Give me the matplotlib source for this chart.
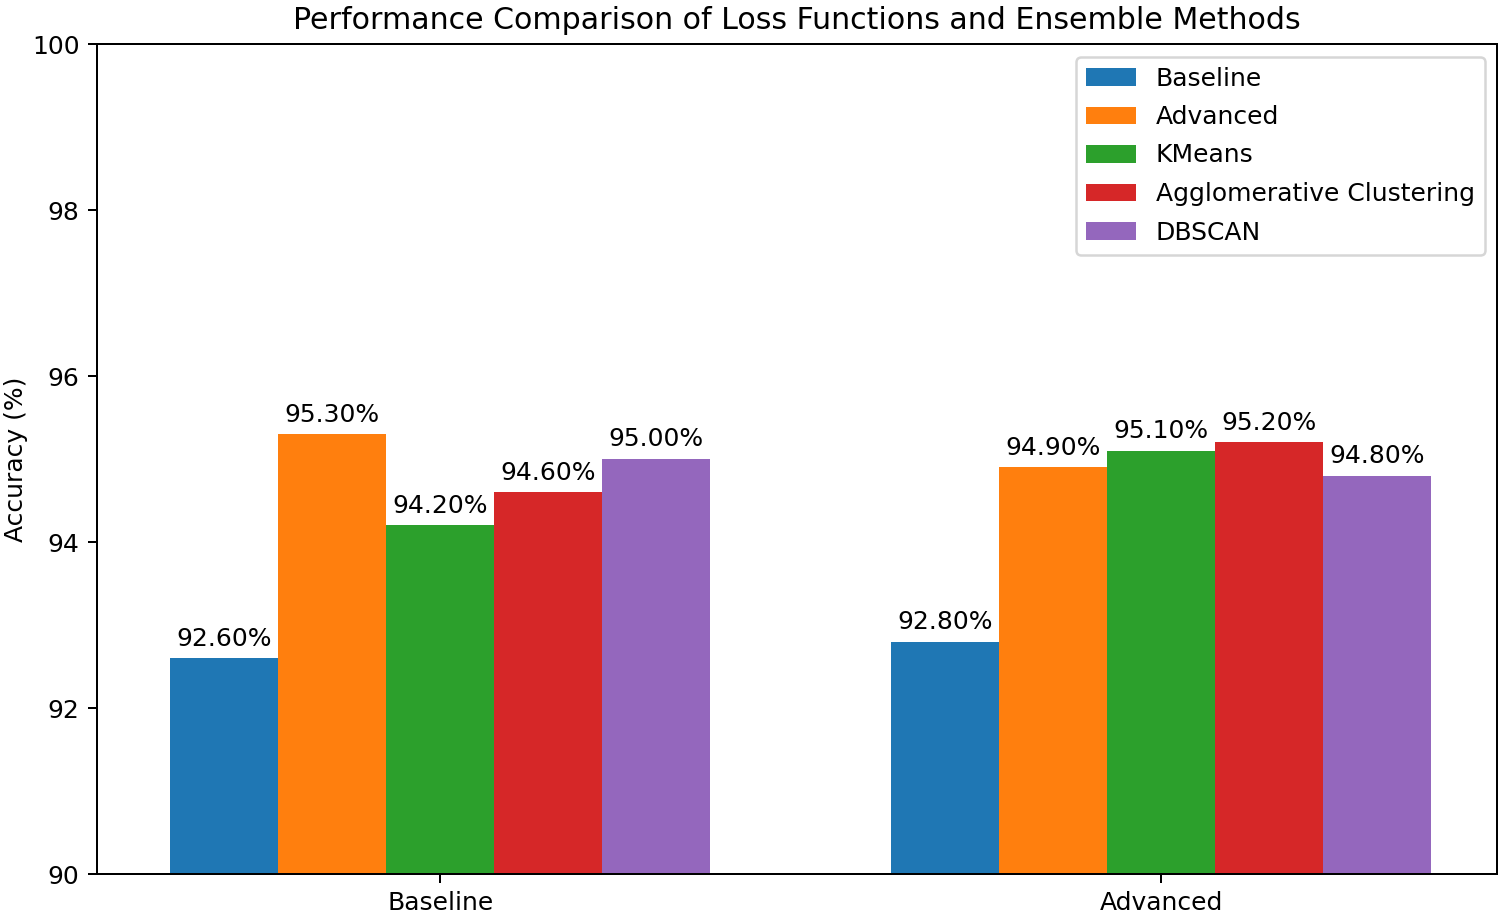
import matplotlib
matplotlib.use("Agg")
import matplotlib.pyplot as plt
import numpy as np

groups = ["Baseline", "Advanced"]
methods = ["Baseline", "Advanced", "KMeans", "Agglomerative Clustering", "DBSCAN"]
values = {
    "Baseline": [92.6, 92.8],
    "Advanced": [95.3, 94.9],
    "KMeans": [94.2, 95.1],
    "Agglomerative Clustering": [94.6, 95.2],
    "DBSCAN": [95.0, 94.8],
}
colors = ["#1f77b4", "#ff7f0e", "#2ca02c", "#d62728", "#9467bd"]

fig = plt.figure(figsize=(1505/180, 916/180), dpi=180)
ax = fig.add_axes([97/1505, 42/916, 1400/1505, 830/916])

x = np.arange(len(groups))
w = 0.15
for i, m in enumerate(methods):
    pos = x + (i - 2) * w
    bars = ax.bar(pos, values[m], w, label=m, color=colors[i])
    for b, v in zip(bars, values[m]):
        ax.annotate(f"{v:.2f}%", (b.get_x() + b.get_width()/2, v),
                    xytext=(0, 3), textcoords="offset points",
                    ha="center", va="bottom", fontsize=10)

ax.set_ylim(90, 100)
ax.set_xlim(-0.476, 1.466)
ax.set_xticks(x)
ax.set_xticklabels(groups)
ax.set_ylabel("Accuracy (%)", labelpad=1.5)
ax.set_title("Performance Comparison of Loss Functions and Ensemble Methods", fontsize=12)
ax.legend(loc="upper right", labelspacing=0.58)

fig.savefig("out.png", dpi=180)
